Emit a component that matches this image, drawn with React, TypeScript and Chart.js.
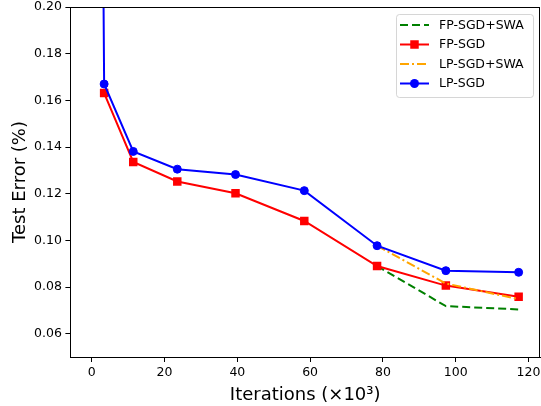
import React, { useEffect, useRef } from 'react';
import { Chart, registerables } from 'chart.js';

Chart.register(...registerables);

// ---- data ----
const initIter = 0;
const initError = 0.9;
const iters = [3.4, 11.4, 23.5, 39.5, 58.4, 78.4, 97.3, 117.3];
const lpSgd = [0.167, 0.1381, 0.1305, 0.1282, 0.1213, 0.0977, 0.087, 0.0863];
const fpSgd = [0.1631, 0.1336, 0.1252, 0.1202, 0.1083, 0.089, 0.0806, 0.0758];
const swaIters = [78.4, 97.3, 117.3];
const fpSgdSwa = [0.089, 0.0718, 0.0704];
const lpSgdSwa = [0.0977, 0.0815, 0.0748];
const xTicks = [0, 20, 40, 60, 80, 100, 120];
const yTicks = [0.06, 0.08, 0.1, 0.12, 0.14, 0.16, 0.18, 0.2];
const seriesLabels = ['FP-SGD+SWA', 'FP-SGD', 'LP-SGD+SWA', 'LP-SGD'];

const FONT = "'DejaVu Sans', sans-serif";

const pts = (xs: number[], ys: number[]) => xs.map((x, i) => ({ x, y: ys[i] }));

const framePlugin = {
  id: 'frame',
  afterDatasetsDraw(chart: any) {
    const { ctx, chartArea: a } = chart;
    ctx.save();
    ctx.strokeStyle = '#000';
    ctx.lineWidth = 1;
    ctx.strokeRect(Math.round(a.left) + 0.5, Math.round(a.top) + 0.5, Math.round(a.right - a.left) - 1, Math.round(a.bottom - a.top));
    ctx.restore();
  },
};

const legendPlugin = {
  id: 'mplLegend',
  afterDraw(chart: any) {
    const { ctx } = chart;
    const bx = 396, by = 14, bw = 137, bh = 83;
    ctx.save();
    ctx.globalAlpha = 0.8;
    ctx.fillStyle = '#fff';
    ctx.strokeStyle = '#cccccc';
    ctx.lineWidth = 1;
    ctx.beginPath();
    (ctx as any).roundRect(bx + 0.5, by + 0.5, bw, bh, 3);
    ctx.fill();
    ctx.stroke();
    ctx.globalAlpha = 1;
    const rows = [25, 44.5, 64, 83.5];
    chart.data.datasets.forEach((ds: any, i: number) => {
      const y = rows[i];
      const x0 = 400, x1 = 429, xm = (x0 + x1) / 2;
      ctx.strokeStyle = ds.borderColor;
      ctx.lineWidth = ds.borderWidth;
      ctx.setLineDash(ds.borderDash || []);
      ctx.beginPath();
      ctx.moveTo(x0, y);
      ctx.lineTo(x1, y);
      ctx.stroke();
      ctx.setLineDash([]);
      if (ds.pointRadius > 0) {
        ctx.fillStyle = ds.pointBackgroundColor;
        if (ds.pointStyle === 'rect') {
          const s = ds.pointRadius * Math.SQRT1_2;
          ctx.fillRect(xm - s, y - s, 2 * s, 2 * s);
        } else {
          ctx.beginPath();
          ctx.arc(xm, y, ds.pointRadius + 0.5, 0, Math.PI * 2);
          ctx.fill();
        }
      }
      ctx.fillStyle = '#000';
      ctx.font = `12.5px ${FONT}`;
      ctx.textAlign = 'left';
      ctx.textBaseline = 'middle';
      ctx.fillText(ds.label, 439, y + 0.5);
    });
    ctx.restore();
  },
};

export default function App() {
  const ref = useRef<HTMLCanvasElement>(null);
  useEffect(() => {
    document.body.style.margin = '0';
    const tickFont = { family: FONT, size: 12.5 };
    const titleFont = { family: FONT, size: 18, lineHeight: 1.1 };
    const chart = new Chart(ref.current!, {
      type: 'line',
      data: {
        datasets: [
          {
            label: seriesLabels[0],
            data: pts(swaIters, fpSgdSwa),
            borderColor: '#008000',
            borderWidth: 2,
            borderDash: [8, 4],
            pointRadius: 0,
            order: 4,
          },
          {
            label: seriesLabels[1],
            data: pts(iters, fpSgd),
            borderColor: '#ff0000',
            backgroundColor: '#ff0000',
            borderWidth: 2,
            pointStyle: 'rect',
            pointRadius: 6,
            pointBorderWidth: 0,
            pointBackgroundColor: '#ff0000',
            order: 3,
          },
          {
            label: seriesLabels[2],
            data: pts(swaIters, lpSgdSwa),
            borderColor: '#ffa500',
            borderWidth: 2,
            borderDash: [9, 3, 2, 3],
            pointRadius: 0,
            order: 2,
          },
          {
            label: seriesLabels[3],
            data: [{ x: initIter, y: initError }, ...pts(iters, lpSgd)],
            borderColor: '#0000ff',
            backgroundColor: '#0000ff',
            borderWidth: 2,
            pointStyle: 'circle',
            pointRadius: 4,
            pointBorderWidth: 1,
            pointBorderColor: '#0000ff',
            pointBackgroundColor: '#0000ff',
            order: 1,
          },
        ] as any,
      },
      options: {
        responsive: false,
        animation: false,
        devicePixelRatio: 1,
        layout: { autoPadding: false, padding: { top: 7, right: 1, left: 0, bottom: 0 } },
        elements: { line: { tension: 0 } },
        plugins: { legend: { display: false }, tooltip: { enabled: false }, title: { display: false } },
        scales: {
          x: {
            type: 'linear',
            min: -5.87,
            max: 123.17,
            afterBuildTicks: (s: any) => { s.ticks = xTicks.map((v) => ({ value: v })); },
            afterFit: (s: any) => { s.height = 49; s.paddingLeft = 0; s.paddingRight = 0; },
            grid: { drawOnChartArea: false, drawTicks: true, tickLength: 5, color: '#000', lineWidth: 1 },
            border: { display: true, color: '#000', width: 1 },
            ticks: { font: tickFont, color: '#000', padding: 3, maxRotation: 0, autoSkip: false, callback: (v: any) => String(v) },
            title: { display: true, text: 'Iterations (×10³)', font: titleFont, color: '#000', padding: { top: 0, bottom: 1 } },
          },
          y: {
            type: 'linear',
            min: 0.05,
            max: 0.2,
            afterBuildTicks: (s: any) => { s.ticks = yTicks.map((v) => ({ value: v })); },
            afterFit: (s: any) => { s.width = 70.4; s.paddingTop = 0; s.paddingBottom = 0; },
            grid: { drawOnChartArea: false, drawTicks: true, tickLength: 5, color: '#000', lineWidth: 1 },
            border: { display: true, color: '#000', width: 1 },
            ticks: { font: tickFont, color: '#000', padding: 3.5, autoSkip: false, callback: (v: any) => Number(v).toFixed(2) },
            title: { display: true, text: 'Test Error (%)', font: titleFont, color: '#000', padding: { top: 10, bottom: 0 } },
          },
        },
      } as any,
      plugins: [framePlugin, legendPlugin],
    });
    return () => chart.destroy();
  }, []);
  return (
    <div style={{ position: 'fixed', left: 0, top: 0, width: 541, height: 406, background: '#fff' }}>
      <canvas ref={ref} width={541} height={406} style={{ display: 'block' }} />
    </div>
  );
}
